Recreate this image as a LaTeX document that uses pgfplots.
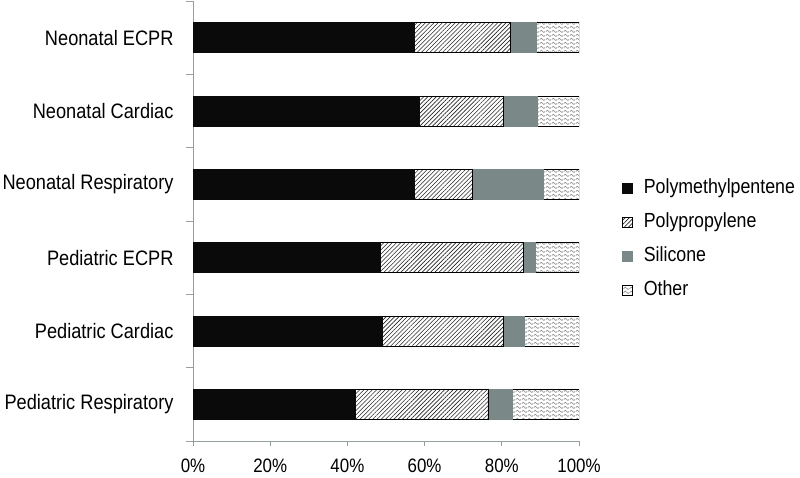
\documentclass[border=0pt]{standalone}
\usepackage{pgfplots}
\pgfplotsset{compat=1.18}
\usepackage{fontspec}
\setmainfont{Liberation Sans}[FakeStretch=0.87]
\usetikzlibrary{patterns,patterns.meta}
\definecolor{silicone}{HTML}{7B8888}
\definecolor{axisgrey}{HTML}{94A09E}
\pgfdeclarepattern{
  name=wave,
  type=uncolored,
  bottom left={\pgfpoint{0bp}{0bp}},
  top right={\pgfpoint{6bp}{3.6bp}},
  tile size={\pgfpoint{6bp}{3.6bp}},
  code={
    \pgfsetlinewidth{0.6bp}
    \pgfpathmoveto{\pgfpoint{0bp}{1.8bp}}
    \pgfpathcurveto{\pgfpoint{1bp}{3.4bp}}{\pgfpoint{2bp}{3.4bp}}{\pgfpoint{3bp}{1.8bp}}
    \pgfpathcurveto{\pgfpoint{4bp}{0.2bp}}{\pgfpoint{5bp}{0.2bp}}{\pgfpoint{6bp}{1.8bp}}
    \pgfusepath{stroke}
  }
}
\pgfplotstableread{
cat pmp pp sil oth
0 41.9 34.5 6.2 17.4
1 49.1 31.4 5.2 14.3
2 48.4 37.1 3.2 11.3
3 57.4 14.9 18.4 9.3
4 58.7 21.8 8.6 10.9
5 57.4 24.9 6.6 11.1
}\datatable
\begin{document}
\begin{tikzpicture}
\begin{axis}[
  at={(193bp,37bp)}, anchor=south west,
  scale only axis,
  width=386bp, height=440bp,
  xbar stacked,
  bar width=30bp,
  xmin=0, xmax=100,
  ymin=-0.5, ymax=5.5,
  axis x line*=bottom, axis y line*=left,
  axis line style={axisgrey, line width=0.8bp},
  xtick={0,20,...,100},
  xticklabel={\pgfmathprintnumber{\tick}\%},
  /pgf/number format/assume math mode=true,
  x tick style={axisgrey, line width=0.8bp},
  xtick align=outside,
  major tick length=5bp,
  xticklabel style={yshift=-9bp, font=\fontsize{19.5}{22}\selectfont},
  ytick={0,1,2,3,4,5},
  yticklabels={Pediatric Respiratory,Pediatric Cardiac,Pediatric ECPR,Neonatal Respiratory,Neonatal Cardiac,Neonatal ECPR},
  y tick style={draw=none},
  minor ytick={-0.5,0.5,...,5.5},
  minor y tick style={axisgrey, line width=0.8bp, draw=axisgrey},
  minor tick length=7bp,
  ytick align=outside,
  yticklabel style={xshift=-11bp, font=\fontsize{21}{24}\selectfont},
  legend style={at={(1.111,0.598)}, anchor=north west, draw=none, fill=none,
    font=\fontsize{20.5}{23}\selectfont, row sep=14bp, column sep=11bp, inner sep=0pt,
    nodes={inner sep=0pt, text height=15bp, text depth=5bp}},
  legend cell align=left,
  legend image code/.code={\draw[#1] (0bp,-5bp) rectangle (10bp,5bp);},
]
\addplot[fill=black!96, draw=black!96] table[x=pmp, y=cat] {\datatable};
\addplot[pattern={Lines[angle=45,distance=3bp,line width=0.6bp]}, pattern color=black!85, draw=black, line width=0.6bp] table[x=pp, y=cat] {\datatable};
\addplot[fill=silicone, draw=silicone] table[x=sil, y=cat] {\datatable};
\addplot[pattern=wave, pattern color=black!50, draw=black, line width=0.8bp] table[x=oth, y=cat] {\datatable};
\legend{Polymethylpentene,Polypropylene,Silicone,Other}
\end{axis}
\pgfresetboundingbox
\path[use as bounding box] (0,0) rectangle (800bp,478bp);
\end{tikzpicture}
\end{document}
